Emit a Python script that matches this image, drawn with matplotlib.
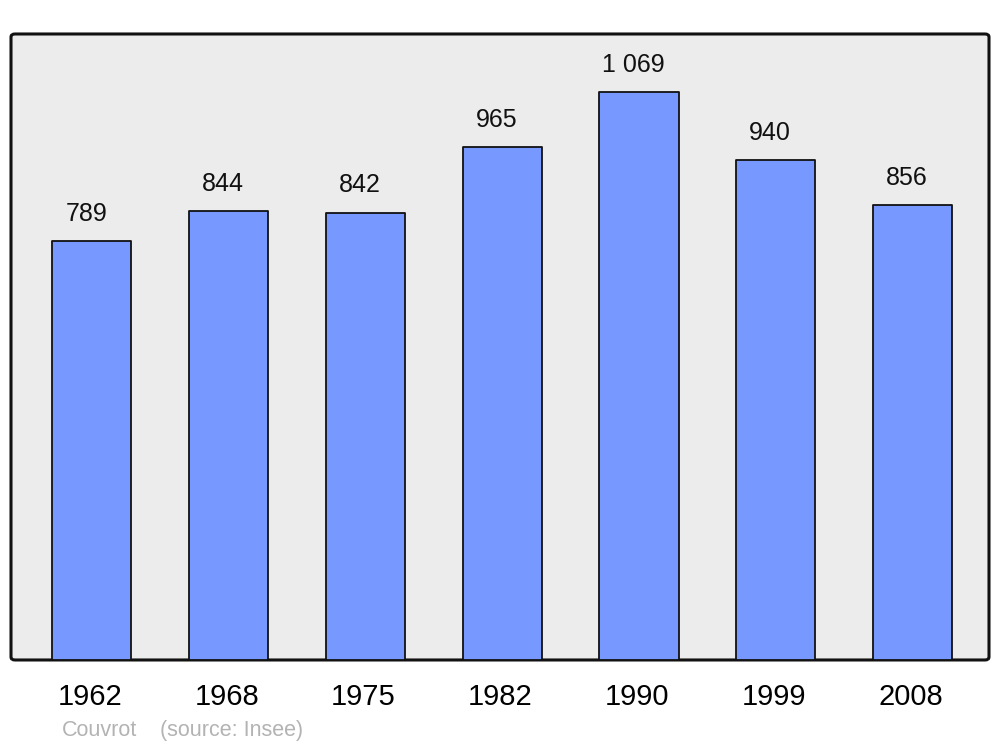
import matplotlib
matplotlib.use('Agg')
import matplotlib.pyplot as plt
import matplotlib.transforms as mtransforms
from matplotlib.patches import FancyBboxPatch

years = ['1962', '1968', '1975', '1982', '1990', '1999', '2008']
population = [789, 844, 842, 965, 1069, 940, 856]
value_labels = ['789', '844', '842', '965', '1 069', '940', '856']

plt.rcParams['font.family'] = ['Liberation Sans', 'DejaVu Sans']

fig = plt.figure(figsize=(10, 7.47), dpi=100)

# rounded grey frame behind the axes
frame = FancyBboxPatch((0.011, 0.1165), 0.978, 0.838,
                       boxstyle='round,pad=0,rounding_size=0.004',
                       transform=fig.transFigure, facecolor='#ececec',
                       edgecolor='#111111', linewidth=2.2, zorder=-5)
fig.patches.append(frame)

ax = fig.add_axes([0.011, 0.1165, 0.978, 0.838])
ax.patch.set_visible(False)
for s in ax.spines.values():
    s.set_visible(False)

x = list(range(len(years)))
bars = ax.bar(x, population, width=0.578, color='#7799ff', edgecolor='#111111',
              linewidth=1.3, zorder=2)
for b in bars:
    b.set_joinstyle('round')

for xi, v, lab in zip(x, population, value_labels):
    ax.annotate(lab, (xi, v), xytext=(-4, 19.5), textcoords='offset points',
                ha='center', va='center', fontsize=18, color='#111111')

ax.set_xlim(-0.592, 6.559)
ax.set_ylim(0, 1178)
ax.set_xticks(x)
ax.set_xticklabels(years, fontsize=21)
ax.tick_params(axis='x', length=0, pad=16.5)
ax.set_yticks([])
shift = mtransforms.ScaledTranslation(-2 / 100, 0, fig.dpi_scale_trans)
for t in ax.get_xticklabels():
    t.set_transform(t.get_transform() + shift)

fig.text(0.062, 0.0225, 'Couvrot', color='#b3b3b3', fontsize=15.5, va='center')
fig.text(0.160, 0.0225, '(source: Insee)', color='#b3b3b3', fontsize=15.5, va='center')

fig.savefig('out.png', dpi=100)
